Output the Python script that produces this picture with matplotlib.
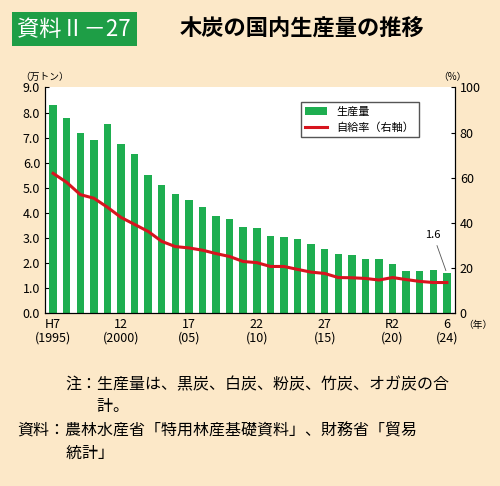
import matplotlib.pyplot as plt

plt.rcParams['font.family'] = ['Noto Sans CJK JP', 'DejaVu Sans']

years = list(range(1995, 2025))
production = [8.3, 7.8, 7.2, 6.9, 7.55, 6.75, 6.35, 5.5, 5.1, 4.75, 4.5, 4.25, 3.9, 3.75,
              3.45, 3.42, 3.1, 3.03, 2.96, 2.78, 2.58, 2.38, 2.32, 2.18, 2.15, 1.98, 1.71,
              1.71, 1.75, 1.6]
self_rate = [62, 58, 52.6, 51, 47, 42.5, 39.4, 36.3, 31.9, 29.6, 29, 28, 26.5, 25.2,
             23, 22.5, 20.8, 20.8, 19.5, 18.3, 17.7, 15.9, 15.8, 15.5, 14.8, 15.9, 15,
             14.2, 13.7, 13.7]
tick_pos = [1995, 2000, 2005, 2010, 2015, 2020, 2024]
tick_labels = ['H7\n(1995)', '12\n(2000)', '17\n(05)', '22\n(10)', '27\n(15)', 'R2\n(20)', '6\n(24)']

bg = '#fce8c8'
green = '#1eae50'
red = '#d7141e'

fig = plt.figure(figsize=(5, 4.86), dpi=100, facecolor=bg)

# title
fig.text(0.035, 0.94, '資料Ⅱ－27', fontsize=16, color='white', va='center',
         bbox=dict(boxstyle='square,pad=0.25', fc='#1e9e46', ec='none'))
fig.text(0.36, 0.94, '木炭の国内生産量の推移', fontsize=16, fontweight='bold', va='center')

ax = fig.add_axes([0.09, 0.355, 0.82, 0.465])
ax.set_facecolor('white')
ax.bar(years, production, width=0.55, color=green, label='生産量', zorder=2)
ax.set_ylim(0, 9)
ax.set_yticks([i for i in range(0, 10)])
ax.set_yticklabels([f'{i:.1f}' for i in range(0, 10)], fontsize=9)
ax.set_xlim(1994.4, 2024.6)
ax.set_xticks(years, minor=True)
ax.set_xticks(tick_pos)
ax.set_xticklabels(tick_labels, fontsize=9, linespacing=1.0)
ax.tick_params(axis='x', which='both', direction='in', length=3)
ax.tick_params(axis='y', direction='in', length=3)
ax.spines['top'].set_visible(False)

ax2 = ax.twinx()
ax2.plot(years, self_rate, color=red, lw=2.2, label='自給率（右軸）', zorder=3)
ax2.set_ylim(0, 100)
ax2.set_yticks(range(0, 101, 20))
ax2.tick_params(axis='y', direction='in', length=3, labelsize=9)
ax2.spines['top'].set_visible(False)

h1, l1 = ax.get_legend_handles_labels()
h2, l2 = ax2.get_legend_handles_labels()
ax2.legend(h1 + h2, l1 + l2, loc='upper left', bbox_to_anchor=(0.61, 0.96), fontsize=8,
           fancybox=False, edgecolor='#555555', framealpha=1)

ax.annotate('1.6', xy=(years[-1], production[-1]), xytext=(2023.0, 3.0), fontsize=8,
            ha='center', arrowprops=dict(arrowstyle='-', color='#555555', lw=0.6))

fig.text(0.09, 0.835, '（万トン）', fontsize=7, ha='center')
fig.text(0.905, 0.835, '（%）', fontsize=7, ha='center')
fig.text(0.955, 0.325, '（年）', fontsize=7, ha='center')

fig.text(0.13, 0.225, '注：生産量は、黒炭、白炭、粉炭、竹炭、オガ炭の合\n　　計。', fontsize=11.5, va='top', linespacing=1.35)
fig.text(0.035, 0.13, '資料：農林水産省「特用林産基礎資料」、財務省「貿易\n　　　統計」', fontsize=11.5, va='top', linespacing=1.35)

fig.savefig('out.png', dpi=100, facecolor=bg)
